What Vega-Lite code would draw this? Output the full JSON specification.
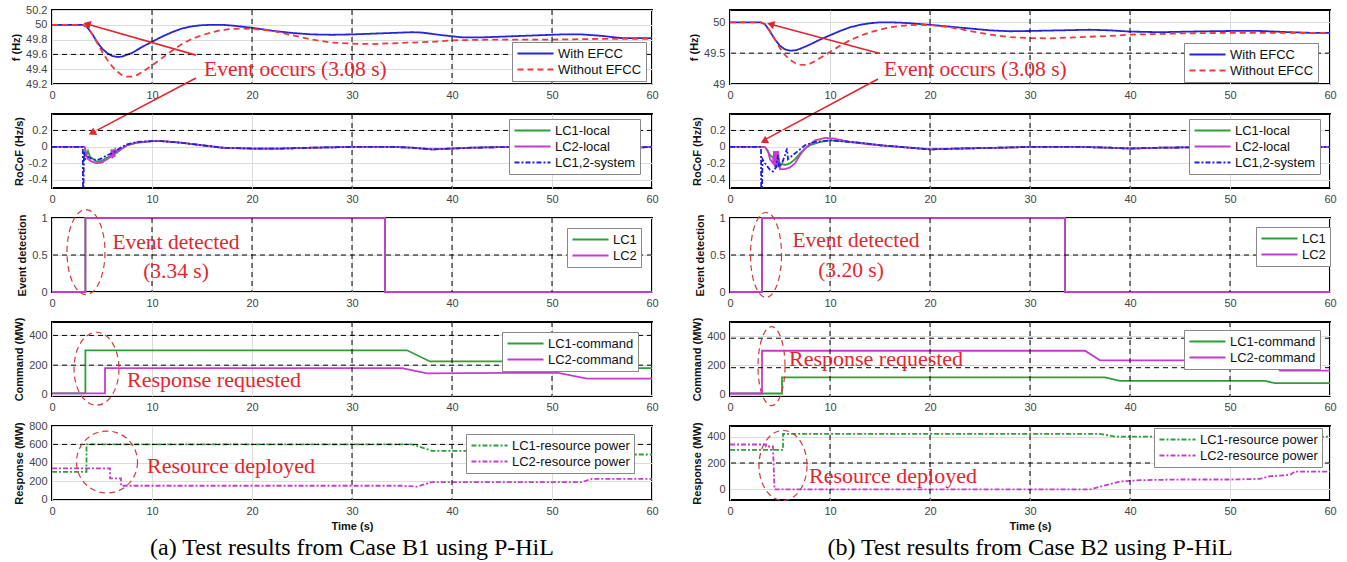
{
"$schema":"https://vega.github.io/schema/vega-lite/v6.json",
"padding":{"left":9,"top":3,"right":2,"bottom":3},
"datasets":{
"vgrid":[
{"p":"L1","t":10},{"p":"L1","t":20},{"p":"L1","t":30},{"p":"L1","t":40},{"p":"L1","t":50},
{"p":"L2","t":30},{"p":"L2","t":40},
{"p":"L3","t":10},{"p":"L3","t":20},{"p":"L3","t":30},{"p":"L3","t":40},{"p":"L3","t":50},
{"p":"L4","t":30},{"p":"L4","t":40},{"p":"L4","t":50},
{"p":"L5","t":30},{"p":"L5","t":40},
{"p":"R1","t":20},{"p":"R1","t":30},{"p":"R1","t":40},
{"p":"R2","t":10},{"p":"R2","t":20},{"p":"R2","t":30},{"p":"R2","t":40},
{"p":"R3","t":10},{"p":"R3","t":20},{"p":"R3","t":30},{"p":"R3","t":40},{"p":"R3","t":50},
{"p":"R4","t":10},{"p":"R4","t":20},{"p":"R4","t":30},{"p":"R4","t":40},{"p":"R4","t":50},
{"p":"R5","t":10},{"p":"R5","t":20},{"p":"R5","t":30},{"p":"R5","t":40}
],
"hgrid":[
{"p":"L1","v":49.6},{"p":"L2","v":0.2},{"p":"L3","v":0.5},{"p":"L4","v":400},{"p":"L4","v":200},{"p":"L5","v":600},
{"p":"R1","v":49.5},{"p":"R2","v":0.2},{"p":"R3","v":0.5},{"p":"R4","v":385},{"p":"R4","v":185},{"p":"R5","v":200}
],
"notes":[
{"p":"L1","t":15.2,"v":49.39,"label":"Event occurs (3.08 s)"},
{"p":"R1","t":15.4,"v":49.23,"label":"Event occurs (3.08 s)"},
{"p":"L3","t":12.4,"v":0.66,"label":"Event detected"},
{"p":"L3","t":12.4,"v":0.27,"label":"(3.34 s)"},
{"p":"R3","t":12.6,"v":0.685,"label":"Event detected"},
{"p":"R3","t":12.1,"v":0.28,"label":"(3.20 s)"},
{"p":"L4","t":7.5,"v":102,"label":"Response requested"},
{"p":"R4","t":5.9,"v":246,"label":"Response requested"},
{"p":"L5","t":9.5,"v":365,"label":"Resource deployed"},
{"p":"R5","t":7.9,"v":100,"label":"Resource deployed"}
],
"arrows":[
{"p":"L1","t":14.4,"v":49.59,"t2":3.5,"v2":50.01},
{"p":"L1","t":14.4,"v":49.28,"t2":4.0,"v2":48.54},
{"p":"R1","t":14.9,"v":49.5,"t2":4.07,"v2":49.97},
{"p":"R1","t":14.8,"v":49.08,"t2":3.4,"v2":48.09}
],
"heads":[
{"p":"L1","t":3.5,"v":50.01},
{"p":"L2","t":4.0,"v":0.17},
{"p":"R1","t":4.07,"v":49.97},
{"p":"R2","t":3.4,"v":0.07}
],
"rings":[
{"p":"L3","t":3.4,"v":0.54},
{"p":"R3","t":3.6,"v":0.5},
{"p":"L4","t":4.45,"v":176},
{"p":"R4","t":4.15,"v":195},
{"p":"L5","t":5.5,"v":408},
{"p":"R5","t":5.3,"v":181}
],
"lines":[
{"p":"L1","s":"With EFCC","t":0,"v":50},{"p":"L1","s":"With EFCC","t":3.08,"v":50},{"p":"L1","s":"With EFCC","t":3.5,"v":49.97},{"p":"L1","s":"With EFCC","t":4,"v":49.88},{"p":"L1","s":"With EFCC","t":4.5,"v":49.77},{"p":"L1","s":"With EFCC","t":5,"v":49.68},{"p":"L1","s":"With EFCC","t":5.5,"v":49.62},{"p":"L1","s":"With EFCC","t":6,"v":49.58},{"p":"L1","s":"With EFCC","t":6.5,"v":49.565},{"p":"L1","s":"With EFCC","t":7,"v":49.57},{"p":"L1","s":"With EFCC","t":8,"v":49.62},{"p":"L1","s":"With EFCC","t":9,"v":49.7},{"p":"L1","s":"With EFCC","t":10,"v":49.77},{"p":"L1","s":"With EFCC","t":11,"v":49.84},{"p":"L1","s":"With EFCC","t":12,"v":49.9},{"p":"L1","s":"With EFCC","t":13,"v":49.95},{"p":"L1","s":"With EFCC","t":14,"v":49.98},{"p":"L1","s":"With EFCC","t":15,"v":49.995},{"p":"L1","s":"With EFCC","t":16,"v":50},{"p":"L1","s":"With EFCC","t":17,"v":50},{"p":"L1","s":"With EFCC","t":18,"v":49.99},{"p":"L1","s":"With EFCC","t":20,"v":49.96},{"p":"L1","s":"With EFCC","t":22,"v":49.92},{"p":"L1","s":"With EFCC","t":24,"v":49.89},{"p":"L1","s":"With EFCC","t":26,"v":49.87},{"p":"L1","s":"With EFCC","t":28,"v":49.865},{"p":"L1","s":"With EFCC","t":30,"v":49.87},{"p":"L1","s":"With EFCC","t":32,"v":49.88},{"p":"L1","s":"With EFCC","t":34,"v":49.89},{"p":"L1","s":"With EFCC","t":36,"v":49.9},{"p":"L1","s":"With EFCC","t":37,"v":49.895},{"p":"L1","s":"With EFCC","t":39,"v":49.86},{"p":"L1","s":"With EFCC","t":41,"v":49.83},{"p":"L1","s":"With EFCC","t":43,"v":49.83},{"p":"L1","s":"With EFCC","t":45,"v":49.84},{"p":"L1","s":"With EFCC","t":47,"v":49.85},{"p":"L1","s":"With EFCC","t":49,"v":49.86},{"p":"L1","s":"With EFCC","t":51,"v":49.87},{"p":"L1","s":"With EFCC","t":53,"v":49.87},{"p":"L1","s":"With EFCC","t":55,"v":49.85},{"p":"L1","s":"With EFCC","t":57,"v":49.82},{"p":"L1","s":"With EFCC","t":60,"v":49.82},
{"p":"L1","s":"Without EFCC","t":0,"v":50},{"p":"L1","s":"Without EFCC","t":3.08,"v":50},{"p":"L1","s":"Without EFCC","t":3.5,"v":49.97},{"p":"L1","s":"Without EFCC","t":4,"v":49.88},{"p":"L1","s":"Without EFCC","t":4.5,"v":49.76},{"p":"L1","s":"Without EFCC","t":5,"v":49.64},{"p":"L1","s":"Without EFCC","t":5.5,"v":49.53},{"p":"L1","s":"Without EFCC","t":6,"v":49.44},{"p":"L1","s":"Without EFCC","t":6.5,"v":49.37},{"p":"L1","s":"Without EFCC","t":7,"v":49.32},{"p":"L1","s":"Without EFCC","t":7.5,"v":49.3},{"p":"L1","s":"Without EFCC","t":8,"v":49.3},{"p":"L1","s":"Without EFCC","t":8.5,"v":49.32},{"p":"L1","s":"Without EFCC","t":9,"v":49.36},{"p":"L1","s":"Without EFCC","t":10,"v":49.45},{"p":"L1","s":"Without EFCC","t":11,"v":49.55},{"p":"L1","s":"Without EFCC","t":12,"v":49.65},{"p":"L1","s":"Without EFCC","t":13,"v":49.74},{"p":"L1","s":"Without EFCC","t":14,"v":49.81},{"p":"L1","s":"Without EFCC","t":15,"v":49.86},{"p":"L1","s":"Without EFCC","t":16,"v":49.9},{"p":"L1","s":"Without EFCC","t":17,"v":49.93},{"p":"L1","s":"Without EFCC","t":18,"v":49.945},{"p":"L1","s":"Without EFCC","t":19,"v":49.95},{"p":"L1","s":"Without EFCC","t":20,"v":49.945},{"p":"L1","s":"Without EFCC","t":22,"v":49.92},{"p":"L1","s":"Without EFCC","t":24,"v":49.86},{"p":"L1","s":"Without EFCC","t":26,"v":49.8},{"p":"L1","s":"Without EFCC","t":28,"v":49.76},{"p":"L1","s":"Without EFCC","t":30,"v":49.745},{"p":"L1","s":"Without EFCC","t":32,"v":49.74},{"p":"L1","s":"Without EFCC","t":34,"v":49.75},{"p":"L1","s":"Without EFCC","t":36,"v":49.76},{"p":"L1","s":"Without EFCC","t":38,"v":49.77},{"p":"L1","s":"Without EFCC","t":40,"v":49.79},{"p":"L1","s":"Without EFCC","t":44,"v":49.8},{"p":"L1","s":"Without EFCC","t":50,"v":49.8},{"p":"L1","s":"Without EFCC","t":55,"v":49.81},{"p":"L1","s":"Without EFCC","t":60,"v":49.81},
{"p":"R1","s":"With EFCC","t":0,"v":50},{"p":"R1","s":"With EFCC","t":3.08,"v":50},{"p":"R1","s":"With EFCC","t":3.5,"v":49.97},{"p":"R1","s":"With EFCC","t":4,"v":49.85},{"p":"R1","s":"With EFCC","t":4.5,"v":49.72},{"p":"R1","s":"With EFCC","t":5,"v":49.62},{"p":"R1","s":"With EFCC","t":5.5,"v":49.56},{"p":"R1","s":"With EFCC","t":6,"v":49.54},{"p":"R1","s":"With EFCC","t":6.5,"v":49.545},{"p":"R1","s":"With EFCC","t":7,"v":49.57},{"p":"R1","s":"With EFCC","t":8,"v":49.64},{"p":"R1","s":"With EFCC","t":9,"v":49.72},{"p":"R1","s":"With EFCC","t":10,"v":49.79},{"p":"R1","s":"With EFCC","t":11,"v":49.86},{"p":"R1","s":"With EFCC","t":12,"v":49.92},{"p":"R1","s":"With EFCC","t":13,"v":49.96},{"p":"R1","s":"With EFCC","t":14,"v":49.985},{"p":"R1","s":"With EFCC","t":15,"v":50},{"p":"R1","s":"With EFCC","t":16,"v":50},{"p":"R1","s":"With EFCC","t":17,"v":49.995},{"p":"R1","s":"With EFCC","t":18,"v":49.985},{"p":"R1","s":"With EFCC","t":20,"v":49.96},{"p":"R1","s":"With EFCC","t":22,"v":49.93},{"p":"R1","s":"With EFCC","t":24,"v":49.9},{"p":"R1","s":"With EFCC","t":26,"v":49.87},{"p":"R1","s":"With EFCC","t":28,"v":49.855},{"p":"R1","s":"With EFCC","t":30,"v":49.86},{"p":"R1","s":"With EFCC","t":33,"v":49.87},{"p":"R1","s":"With EFCC","t":36,"v":49.88},{"p":"R1","s":"With EFCC","t":38,"v":49.87},{"p":"R1","s":"With EFCC","t":40,"v":49.85},{"p":"R1","s":"With EFCC","t":43,"v":49.84},{"p":"R1","s":"With EFCC","t":46,"v":49.85},{"p":"R1","s":"With EFCC","t":50,"v":49.86},{"p":"R1","s":"With EFCC","t":53,"v":49.86},{"p":"R1","s":"With EFCC","t":56,"v":49.84},{"p":"R1","s":"With EFCC","t":58,"v":49.83},{"p":"R1","s":"With EFCC","t":60,"v":49.83},
{"p":"R1","s":"Without EFCC","t":0,"v":50},{"p":"R1","s":"Without EFCC","t":3.08,"v":50},{"p":"R1","s":"Without EFCC","t":3.5,"v":49.97},{"p":"R1","s":"Without EFCC","t":4,"v":49.86},{"p":"R1","s":"Without EFCC","t":4.5,"v":49.72},{"p":"R1","s":"Without EFCC","t":5,"v":49.58},{"p":"R1","s":"Without EFCC","t":5.5,"v":49.47},{"p":"R1","s":"Without EFCC","t":6,"v":49.39},{"p":"R1","s":"Without EFCC","t":6.5,"v":49.34},{"p":"R1","s":"Without EFCC","t":7,"v":49.315},{"p":"R1","s":"Without EFCC","t":7.5,"v":49.31},{"p":"R1","s":"Without EFCC","t":8,"v":49.33},{"p":"R1","s":"Without EFCC","t":8.5,"v":49.37},{"p":"R1","s":"Without EFCC","t":9,"v":49.42},{"p":"R1","s":"Without EFCC","t":10,"v":49.52},{"p":"R1","s":"Without EFCC","t":11,"v":49.62},{"p":"R1","s":"Without EFCC","t":12,"v":49.71},{"p":"R1","s":"Without EFCC","t":13,"v":49.78},{"p":"R1","s":"Without EFCC","t":14,"v":49.84},{"p":"R1","s":"Without EFCC","t":15,"v":49.88},{"p":"R1","s":"Without EFCC","t":16,"v":49.92},{"p":"R1","s":"Without EFCC","t":17,"v":49.94},{"p":"R1","s":"Without EFCC","t":18,"v":49.955},{"p":"R1","s":"Without EFCC","t":19,"v":49.96},{"p":"R1","s":"Without EFCC","t":20,"v":49.955},{"p":"R1","s":"Without EFCC","t":22,"v":49.92},{"p":"R1","s":"Without EFCC","t":24,"v":49.86},{"p":"R1","s":"Without EFCC","t":26,"v":49.8},{"p":"R1","s":"Without EFCC","t":28,"v":49.76},{"p":"R1","s":"Without EFCC","t":30,"v":49.745},{"p":"R1","s":"Without EFCC","t":32,"v":49.74},{"p":"R1","s":"Without EFCC","t":35,"v":49.76},{"p":"R1","s":"Without EFCC","t":38,"v":49.78},{"p":"R1","s":"Without EFCC","t":40,"v":49.8},{"p":"R1","s":"Without EFCC","t":45,"v":49.82},{"p":"R1","s":"Without EFCC","t":50,"v":49.83},{"p":"R1","s":"Without EFCC","t":55,"v":49.83},{"p":"R1","s":"Without EFCC","t":60,"v":49.83},
{"p":"L2","s":"LC1-local","t":0,"v":0},{"p":"L2","s":"LC1-local","t":3.3,"v":0},{"p":"L2","s":"LC1-local","t":3.4,"v":-0.12},{"p":"L2","s":"LC1-local","t":3.6,"v":-0.05},{"p":"L2","s":"LC1-local","t":3.8,"v":-0.12},{"p":"L2","s":"LC1-local","t":4.5,"v":-0.18},{"p":"L2","s":"LC1-local","t":5,"v":-0.17},{"p":"L2","s":"LC1-local","t":5.5,"v":-0.13},{"p":"L2","s":"LC1-local","t":6,"v":-0.1},{"p":"L2","s":"LC1-local","t":6.5,"v":-0.07},{"p":"L2","s":"LC1-local","t":7,"v":-0.02},{"p":"L2","s":"LC1-local","t":7.5,"v":0.02},{"p":"L2","s":"LC1-local","t":8.5,"v":0.05},{"p":"L2","s":"LC1-local","t":10,"v":0.07},{"p":"L2","s":"LC1-local","t":11,"v":0.07},{"p":"L2","s":"LC1-local","t":13,"v":0.05},{"p":"L2","s":"LC1-local","t":15,"v":0.02},{"p":"L2","s":"LC1-local","t":17,"v":-0.01},{"p":"L2","s":"LC1-local","t":20,"v":-0.02},{"p":"L2","s":"LC1-local","t":23,"v":-0.02},{"p":"L2","s":"LC1-local","t":26,"v":-0.01},{"p":"L2","s":"LC1-local","t":30,"v":0},{"p":"L2","s":"LC1-local","t":34,"v":0},{"p":"L2","s":"LC1-local","t":36,"v":-0.01},{"p":"L2","s":"LC1-local","t":38,"v":-0.03},{"p":"L2","s":"LC1-local","t":40,"v":-0.02},{"p":"L2","s":"LC1-local","t":42,"v":-0.01},{"p":"L2","s":"LC1-local","t":46,"v":0},{"p":"L2","s":"LC1-local","t":50,"v":0},{"p":"L2","s":"LC1-local","t":53,"v":-0.01},{"p":"L2","s":"LC1-local","t":56,"v":-0.02},{"p":"L2","s":"LC1-local","t":58,"v":-0.01},{"p":"L2","s":"LC1-local","t":60,"v":0},
{"p":"L2","s":"LC2-local","t":0,"v":0},{"p":"L2","s":"LC2-local","t":3.3,"v":0},{"p":"L2","s":"LC2-local","t":3.4,"v":-0.1},{"p":"L2","s":"LC2-local","t":3.6,"v":-0.15},{"p":"L2","s":"LC2-local","t":4,"v":-0.18},{"p":"L2","s":"LC2-local","t":4.5,"v":-0.2},{"p":"L2","s":"LC2-local","t":5,"v":-0.19},{"p":"L2","s":"LC2-local","t":5.5,"v":-0.15},{"p":"L2","s":"LC2-local","t":5.9,"v":-0.12},{"p":"L2","s":"LC2-local","t":5.95,"v":-0.03},{"p":"L2","s":"LC2-local","t":6.05,"v":-0.14},{"p":"L2","s":"LC2-local","t":6.15,"v":-0.03},{"p":"L2","s":"LC2-local","t":6.25,"v":-0.12},{"p":"L2","s":"LC2-local","t":6.35,"v":-0.03},{"p":"L2","s":"LC2-local","t":6.5,"v":-0.06},{"p":"L2","s":"LC2-local","t":7,"v":-0.02},{"p":"L2","s":"LC2-local","t":7.5,"v":0.02},{"p":"L2","s":"LC2-local","t":8.5,"v":0.055},{"p":"L2","s":"LC2-local","t":10,"v":0.07},{"p":"L2","s":"LC2-local","t":11,"v":0.07},{"p":"L2","s":"LC2-local","t":13,"v":0.05},{"p":"L2","s":"LC2-local","t":15,"v":0.02},{"p":"L2","s":"LC2-local","t":17,"v":-0.01},{"p":"L2","s":"LC2-local","t":20,"v":-0.02},{"p":"L2","s":"LC2-local","t":23,"v":-0.02},{"p":"L2","s":"LC2-local","t":26,"v":-0.01},{"p":"L2","s":"LC2-local","t":30,"v":0},{"p":"L2","s":"LC2-local","t":34,"v":0},{"p":"L2","s":"LC2-local","t":36,"v":-0.01},{"p":"L2","s":"LC2-local","t":38,"v":-0.03},{"p":"L2","s":"LC2-local","t":40,"v":-0.02},{"p":"L2","s":"LC2-local","t":42,"v":-0.01},{"p":"L2","s":"LC2-local","t":46,"v":0},{"p":"L2","s":"LC2-local","t":50,"v":0},{"p":"L2","s":"LC2-local","t":53,"v":-0.01},{"p":"L2","s":"LC2-local","t":56,"v":-0.02},{"p":"L2","s":"LC2-local","t":58,"v":-0.01},{"p":"L2","s":"LC2-local","t":60,"v":0},
{"p":"L2","s":"LC1,2-system","t":0,"v":0},{"p":"L2","s":"LC1,2-system","t":3.08,"v":0},{"p":"L2","s":"LC1,2-system","t":3.1,"v":-0.5},{"p":"L2","s":"LC1,2-system","t":3.15,"v":-0.5},{"p":"L2","s":"LC1,2-system","t":3.2,"v":-0.05},{"p":"L2","s":"LC1,2-system","t":3.3,"v":-0.15},{"p":"L2","s":"LC1,2-system","t":3.6,"v":-0.12},{"p":"L2","s":"LC1,2-system","t":4,"v":-0.15},{"p":"L2","s":"LC1,2-system","t":4.5,"v":-0.16},{"p":"L2","s":"LC1,2-system","t":5,"v":-0.14},{"p":"L2","s":"LC1,2-system","t":5.5,"v":-0.1},{"p":"L2","s":"LC1,2-system","t":6,"v":-0.08},{"p":"L2","s":"LC1,2-system","t":6.5,"v":-0.04},{"p":"L2","s":"LC1,2-system","t":7,"v":0},{"p":"L2","s":"LC1,2-system","t":7.5,"v":0.03},{"p":"L2","s":"LC1,2-system","t":8.5,"v":0.06},{"p":"L2","s":"LC1,2-system","t":10,"v":0.07},{"p":"L2","s":"LC1,2-system","t":11,"v":0.07},{"p":"L2","s":"LC1,2-system","t":13,"v":0.05},{"p":"L2","s":"LC1,2-system","t":15,"v":0.02},{"p":"L2","s":"LC1,2-system","t":17,"v":-0.01},{"p":"L2","s":"LC1,2-system","t":20,"v":-0.02},{"p":"L2","s":"LC1,2-system","t":23,"v":-0.02},{"p":"L2","s":"LC1,2-system","t":26,"v":-0.01},{"p":"L2","s":"LC1,2-system","t":30,"v":0},{"p":"L2","s":"LC1,2-system","t":34,"v":0},{"p":"L2","s":"LC1,2-system","t":36,"v":-0.01},{"p":"L2","s":"LC1,2-system","t":38,"v":-0.03},{"p":"L2","s":"LC1,2-system","t":40,"v":-0.02},{"p":"L2","s":"LC1,2-system","t":42,"v":-0.01},{"p":"L2","s":"LC1,2-system","t":46,"v":0},{"p":"L2","s":"LC1,2-system","t":50,"v":0},{"p":"L2","s":"LC1,2-system","t":53,"v":-0.01},{"p":"L2","s":"LC1,2-system","t":56,"v":-0.02},{"p":"L2","s":"LC1,2-system","t":58,"v":-0.01},{"p":"L2","s":"LC1,2-system","t":60,"v":0},
{"p":"R2","s":"LC1-local","t":0,"v":0},{"p":"R2","s":"LC1-local","t":3.5,"v":0},{"p":"R2","s":"LC1-local","t":4,"v":-0.1},{"p":"R2","s":"LC1-local","t":4.5,"v":-0.15},{"p":"R2","s":"LC1-local","t":5,"v":-0.2},{"p":"R2","s":"LC1-local","t":5.5,"v":-0.22},{"p":"R2","s":"LC1-local","t":6,"v":-0.2},{"p":"R2","s":"LC1-local","t":6.5,"v":-0.15},{"p":"R2","s":"LC1-local","t":7,"v":-0.08},{"p":"R2","s":"LC1-local","t":7.5,"v":-0.02},{"p":"R2","s":"LC1-local","t":8,"v":0.02},{"p":"R2","s":"LC1-local","t":9,"v":0.06},{"p":"R2","s":"LC1-local","t":10,"v":0.08},{"p":"R2","s":"LC1-local","t":11,"v":0.07},{"p":"R2","s":"LC1-local","t":13,"v":0.05},{"p":"R2","s":"LC1-local","t":15,"v":0.02},{"p":"R2","s":"LC1-local","t":17,"v":0},{"p":"R2","s":"LC1-local","t":20,"v":-0.03},{"p":"R2","s":"LC1-local","t":23,"v":-0.02},{"p":"R2","s":"LC1-local","t":27,"v":-0.01},{"p":"R2","s":"LC1-local","t":30,"v":0},{"p":"R2","s":"LC1-local","t":35,"v":0},{"p":"R2","s":"LC1-local","t":38,"v":-0.01},{"p":"R2","s":"LC1-local","t":40,"v":-0.02},{"p":"R2","s":"LC1-local","t":43,"v":-0.01},{"p":"R2","s":"LC1-local","t":50,"v":0},{"p":"R2","s":"LC1-local","t":55,"v":-0.01},{"p":"R2","s":"LC1-local","t":60,"v":0},
{"p":"R2","s":"LC2-local","t":0,"v":0},{"p":"R2","s":"LC2-local","t":3.5,"v":0},{"p":"R2","s":"LC2-local","t":3.8,"v":-0.05},{"p":"R2","s":"LC2-local","t":4,"v":-0.15},{"p":"R2","s":"LC2-local","t":4.3,"v":-0.2},{"p":"R2","s":"LC2-local","t":4.4,"v":-0.05},{"p":"R2","s":"LC2-local","t":4.5,"v":-0.25},{"p":"R2","s":"LC2-local","t":4.6,"v":-0.05},{"p":"R2","s":"LC2-local","t":4.7,"v":-0.25},{"p":"R2","s":"LC2-local","t":4.8,"v":-0.05},{"p":"R2","s":"LC2-local","t":5,"v":-0.27},{"p":"R2","s":"LC2-local","t":5.5,"v":-0.27},{"p":"R2","s":"LC2-local","t":6,"v":-0.25},{"p":"R2","s":"LC2-local","t":6.5,"v":-0.2},{"p":"R2","s":"LC2-local","t":7,"v":-0.1},{"p":"R2","s":"LC2-local","t":7.5,"v":-0.02},{"p":"R2","s":"LC2-local","t":8,"v":0.03},{"p":"R2","s":"LC2-local","t":8.5,"v":0.08},{"p":"R2","s":"LC2-local","t":9.5,"v":0.11},{"p":"R2","s":"LC2-local","t":10.5,"v":0.1},{"p":"R2","s":"LC2-local","t":12,"v":0.06},{"p":"R2","s":"LC2-local","t":14,"v":0.03},{"p":"R2","s":"LC2-local","t":17,"v":0},{"p":"R2","s":"LC2-local","t":20,"v":-0.03},{"p":"R2","s":"LC2-local","t":23,"v":-0.02},{"p":"R2","s":"LC2-local","t":27,"v":-0.01},{"p":"R2","s":"LC2-local","t":30,"v":0},{"p":"R2","s":"LC2-local","t":35,"v":0},{"p":"R2","s":"LC2-local","t":38,"v":-0.01},{"p":"R2","s":"LC2-local","t":40,"v":-0.02},{"p":"R2","s":"LC2-local","t":43,"v":-0.01},{"p":"R2","s":"LC2-local","t":50,"v":0},{"p":"R2","s":"LC2-local","t":55,"v":-0.01},{"p":"R2","s":"LC2-local","t":60,"v":0},
{"p":"R2","s":"LC1,2-system","t":0,"v":0},{"p":"R2","s":"LC1,2-system","t":3.1,"v":0},{"p":"R2","s":"LC1,2-system","t":3.12,"v":-0.5},{"p":"R2","s":"LC1,2-system","t":3.2,"v":-0.5},{"p":"R2","s":"LC1,2-system","t":3.25,"v":-0.15},{"p":"R2","s":"LC1,2-system","t":3.5,"v":-0.2},{"p":"R2","s":"LC1,2-system","t":4,"v":-0.28},{"p":"R2","s":"LC1,2-system","t":4.3,"v":-0.3},{"p":"R2","s":"LC1,2-system","t":4.6,"v":-0.25},{"p":"R2","s":"LC1,2-system","t":4.8,"v":-0.1},{"p":"R2","s":"LC1,2-system","t":4.9,"v":-0.25},{"p":"R2","s":"LC1,2-system","t":5.2,"v":-0.2},{"p":"R2","s":"LC1,2-system","t":5.5,"v":-0.1},{"p":"R2","s":"LC1,2-system","t":5.7,"v":-0.02},{"p":"R2","s":"LC1,2-system","t":5.8,"v":-0.15},{"p":"R2","s":"LC1,2-system","t":6.3,"v":-0.1},{"p":"R2","s":"LC1,2-system","t":7,"v":-0.03},{"p":"R2","s":"LC1,2-system","t":7.5,"v":0.02},{"p":"R2","s":"LC1,2-system","t":8.5,"v":0.06},{"p":"R2","s":"LC1,2-system","t":10,"v":0.08},{"p":"R2","s":"LC1,2-system","t":11,"v":0.07},{"p":"R2","s":"LC1,2-system","t":13,"v":0.05},{"p":"R2","s":"LC1,2-system","t":15,"v":0.02},{"p":"R2","s":"LC1,2-system","t":17,"v":0},{"p":"R2","s":"LC1,2-system","t":20,"v":-0.03},{"p":"R2","s":"LC1,2-system","t":23,"v":-0.02},{"p":"R2","s":"LC1,2-system","t":27,"v":-0.01},{"p":"R2","s":"LC1,2-system","t":30,"v":0},{"p":"R2","s":"LC1,2-system","t":35,"v":0},{"p":"R2","s":"LC1,2-system","t":38,"v":-0.01},{"p":"R2","s":"LC1,2-system","t":40,"v":-0.02},{"p":"R2","s":"LC1,2-system","t":43,"v":-0.01},{"p":"R2","s":"LC1,2-system","t":50,"v":0},{"p":"R2","s":"LC1,2-system","t":55,"v":-0.01},{"p":"R2","s":"LC1,2-system","t":60,"v":0},
{"p":"L3","s":"LC1","t":0,"v":0},{"p":"L3","s":"LC1","t":3.34,"v":0},{"p":"L3","s":"LC1","t":3.341,"v":1},{"p":"L3","s":"LC1","t":33.3,"v":1},{"p":"L3","s":"LC1","t":33.301,"v":0},{"p":"L3","s":"LC1","t":60,"v":0},
{"p":"L3","s":"LC2","t":0,"v":0},{"p":"L3","s":"LC2","t":3.34,"v":0},{"p":"L3","s":"LC2","t":3.341,"v":1},{"p":"L3","s":"LC2","t":33.3,"v":1},{"p":"L3","s":"LC2","t":33.301,"v":0},{"p":"L3","s":"LC2","t":60,"v":0},
{"p":"R3","s":"LC1","t":0,"v":0},{"p":"R3","s":"LC1","t":3.2,"v":0},{"p":"R3","s":"LC1","t":3.201,"v":1},{"p":"R3","s":"LC1","t":33.5,"v":1},{"p":"R3","s":"LC1","t":33.501,"v":0},{"p":"R3","s":"LC1","t":60,"v":0},
{"p":"R3","s":"LC2","t":0,"v":0},{"p":"R3","s":"LC2","t":3.2,"v":0},{"p":"R3","s":"LC2","t":3.201,"v":1},{"p":"R3","s":"LC2","t":33.5,"v":1},{"p":"R3","s":"LC2","t":33.501,"v":0},{"p":"R3","s":"LC2","t":60,"v":0},
{"p":"L4","s":"LC1-command","t":0,"v":10},{"p":"L4","s":"LC1-command","t":3.34,"v":10},{"p":"L4","s":"LC1-command","t":3.341,"v":300},{"p":"L4","s":"LC1-command","t":35.5,"v":300},{"p":"L4","s":"LC1-command","t":37.8,"v":225},{"p":"L4","s":"LC1-command","t":56,"v":225},{"p":"L4","s":"LC1-command","t":56.6,"v":180},{"p":"L4","s":"LC1-command","t":60,"v":180},
{"p":"L4","s":"LC2-command","t":0,"v":10},{"p":"L4","s":"LC2-command","t":5.3,"v":10},{"p":"L4","s":"LC2-command","t":5.301,"v":180},{"p":"L4","s":"LC2-command","t":35,"v":180},{"p":"L4","s":"LC2-command","t":37.5,"v":145},{"p":"L4","s":"LC2-command","t":50.5,"v":150},{"p":"L4","s":"LC2-command","t":53.5,"v":110},{"p":"L4","s":"LC2-command","t":60,"v":110},
{"p":"R4","s":"LC1-command","t":0,"v":10},{"p":"R4","s":"LC1-command","t":5.2,"v":10},{"p":"R4","s":"LC1-command","t":5.201,"v":120},{"p":"R4","s":"LC1-command","t":37.5,"v":120},{"p":"R4","s":"LC1-command","t":39,"v":95},{"p":"R4","s":"LC1-command","t":53.5,"v":95},{"p":"R4","s":"LC1-command","t":54.5,"v":80},{"p":"R4","s":"LC1-command","t":60,"v":80},
{"p":"R4","s":"LC2-command","t":0,"v":10},{"p":"R4","s":"LC2-command","t":3.2,"v":10},{"p":"R4","s":"LC2-command","t":3.201,"v":300},{"p":"R4","s":"LC2-command","t":35.5,"v":300},{"p":"R4","s":"LC2-command","t":37,"v":235},{"p":"R4","s":"LC2-command","t":54,"v":235},{"p":"R4","s":"LC2-command","t":55,"v":165},{"p":"R4","s":"LC2-command","t":60,"v":165},
{"p":"L5","s":"LC1-resource power","t":0,"v":300},{"p":"L5","s":"LC1-resource power","t":3.45,"v":300},{"p":"L5","s":"LC1-resource power","t":3.451,"v":600},{"p":"L5","s":"LC1-resource power","t":36,"v":600},{"p":"L5","s":"LC1-resource power","t":38,"v":530},{"p":"L5","s":"LC1-resource power","t":56,"v":530},{"p":"L5","s":"LC1-resource power","t":57,"v":490},{"p":"L5","s":"LC1-resource power","t":60,"v":490},
{"p":"L5","s":"LC2-resource power","t":0,"v":340},{"p":"L5","s":"LC2-resource power","t":5.8,"v":340},{"p":"L5","s":"LC2-resource power","t":5.801,"v":230},{"p":"L5","s":"LC2-resource power","t":6.9,"v":230},{"p":"L5","s":"LC2-resource power","t":6.901,"v":150},{"p":"L5","s":"LC2-resource power","t":35,"v":150},{"p":"L5","s":"LC2-resource power","t":36.5,"v":140},{"p":"L5","s":"LC2-resource power","t":38,"v":190},{"p":"L5","s":"LC2-resource power","t":53,"v":190},{"p":"L5","s":"LC2-resource power","t":54,"v":225},{"p":"L5","s":"LC2-resource power","t":60,"v":225},
{"p":"R5","s":"LC1-resource power","t":0,"v":300},{"p":"R5","s":"LC1-resource power","t":5.3,"v":300},{"p":"R5","s":"LC1-resource power","t":5.301,"v":420},{"p":"R5","s":"LC1-resource power","t":37,"v":420},{"p":"R5","s":"LC1-resource power","t":38.5,"v":400},{"p":"R5","s":"LC1-resource power","t":60,"v":400},
{"p":"R5","s":"LC2-resource power","t":0,"v":340},{"p":"R5","s":"LC2-resource power","t":3.6,"v":340},{"p":"R5","s":"LC2-resource power","t":3.601,"v":325},{"p":"R5","s":"LC2-resource power","t":4.3,"v":325},{"p":"R5","s":"LC2-resource power","t":4.45,"v":0},{"p":"R5","s":"LC2-resource power","t":36,"v":0},{"p":"R5","s":"LC2-resource power","t":37,"v":20},{"p":"R5","s":"LC2-resource power","t":38,"v":40},{"p":"R5","s":"LC2-resource power","t":39,"v":60},{"p":"R5","s":"LC2-resource power","t":41,"v":70},{"p":"R5","s":"LC2-resource power","t":45,"v":75},{"p":"R5","s":"LC2-resource power","t":50,"v":75},{"p":"R5","s":"LC2-resource power","t":53,"v":80},{"p":"R5","s":"LC2-resource power","t":54,"v":100},{"p":"R5","s":"LC2-resource power","t":56,"v":110},{"p":"R5","s":"LC2-resource power","t":56.5,"v":135},{"p":"R5","s":"LC2-resource power","t":60,"v":135}
]
},
"columns":2,
"spacing":{"row":30,"column":78},
"bounds":"flush",
"resolve":{"scale":{"color":"independent","strokeDash":"independent"},"legend":{"color":"independent","strokeDash":"independent"}},
"concat":[
{"width":600,"height":74,"layer":[
 {"data":{"name":"lines"},"transform":[{"filter":"datum.p==='L1'"}],"mark":{"type":"line","strokeWidth":1.8},"encoding":{
   "x":{"field":"t","type":"quantitative","scale":{"domain":[0,60],"nice":false},"axis":{"values":[0,10,20,30,40,50,60],"tickCount":20,"title":null,"labelOverlap":false}},
   "y":{"field":"v","type":"quantitative","scale":{"domain":[49.2,50.2],"nice":false,"zero":false},"axis":{"values":[49.2,49.4,49.6,49.8,50,50.2],"tickCount":20,"labelExpr":"replace(format(datum.value, '~g'), '−', '-')","labelOverlap":false,"title":"f (Hz)"}},
   "color":{"field":"s","type":"nominal","sort":null,"scale":{"domain":["With EFCC","Without EFCC"],"range":["#2626d9","#f0393c"]},"legend":{"title":null,"orient":"none","legendX":460,"legendY":32}},
   "strokeDash":{"field":"s","type":"nominal","sort":null,"scale":{"domain":["With EFCC","Without EFCC"],"range":[[1,0],[6,4]]},"legend":{"title":null,"orient":"none","legendX":460,"legendY":32}}}},
 {"data":{"name":"vgrid"},"transform":[{"filter":"datum.p==='L1'"}],"mark":{"type":"rule","color":"#000","strokeDash":[5,4],"strokeWidth":1},"encoding":{"x":{"field":"t","type":"quantitative","scale":{"domain":[0,60],"nice":false}}}},
 {"data":{"name":"hgrid"},"transform":[{"filter":"datum.p==='L1'"}],"mark":{"type":"rule","color":"#000","strokeDash":[5,4],"strokeWidth":1},"encoding":{"y":{"field":"v","type":"quantitative","scale":{"domain":[49.2,50.2],"nice":false,"zero":false}}}},
 {"data":{"name":"notes"},"transform":[{"filter":"datum.p==='L1'"}],"mark":{"type":"text","font":"Liberation Serif","fontSize":21.5,"color":"#e3262e","align":"left","baseline":"middle"},"encoding":{"x":{"field":"t","type":"quantitative","scale":{"domain":[0,60],"nice":false}},"y":{"field":"v","type":"quantitative","scale":{"domain":[49.2,50.2],"nice":false,"zero":false}},"text":{"field":"label"}}},
 {"data":{"name":"arrows"},"transform":[{"filter":"datum.p==='L1'"}],"mark":{"type":"rule","color":"#e3262e","strokeWidth":1.6},"encoding":{"x":{"field":"t","type":"quantitative","scale":{"domain":[0,60],"nice":false}},"y":{"field":"v","type":"quantitative","scale":{"domain":[49.2,50.2],"nice":false,"zero":false}},"x2":{"field":"t2"},"y2":{"field":"v2"}}},
 {"data":{"name":"heads"},"transform":[{"filter":"datum.p==='L1'"}],"mark":{"type":"point","shape":"triangle-up","filled":true,"opacity":1,"color":"#e3262e","size":70,"angle":-74},"encoding":{"x":{"field":"t","type":"quantitative","scale":{"domain":[0,60],"nice":false}},"y":{"field":"v","type":"quantitative","scale":{"domain":[49.2,50.2],"nice":false,"zero":false}}}}
]},
{"width":600,"height":74,"layer":[
 {"data":{"name":"lines"},"transform":[{"filter":"datum.p==='R1'"}],"mark":{"type":"line","strokeWidth":1.8},"encoding":{
   "x":{"field":"t","type":"quantitative","scale":{"domain":[0,60],"nice":false},"axis":{"values":[0,10,20,30,40,50,60],"tickCount":20,"title":null,"labelOverlap":false}},
   "y":{"field":"v","type":"quantitative","scale":{"domain":[49,50.2],"nice":false,"zero":false},"axis":{"values":[49,49.5,50],"tickCount":20,"labelExpr":"replace(format(datum.value, '~g'), '−', '-')","labelOverlap":false,"title":"f (Hz)"}},
   "color":{"field":"s","type":"nominal","sort":null,"scale":{"domain":["With EFCC","Without EFCC"],"range":["#2626d9","#f0393c"]},"legend":{"title":null,"orient":"none","legendX":454,"legendY":33}},
   "strokeDash":{"field":"s","type":"nominal","sort":null,"scale":{"domain":["With EFCC","Without EFCC"],"range":[[1,0],[6,4]]},"legend":{"title":null,"orient":"none","legendX":454,"legendY":33}}}},
 {"data":{"name":"vgrid"},"transform":[{"filter":"datum.p==='R1'"}],"mark":{"type":"rule","color":"#000","strokeDash":[5,4],"strokeWidth":1},"encoding":{"x":{"field":"t","type":"quantitative","scale":{"domain":[0,60],"nice":false}}}},
 {"data":{"name":"hgrid"},"transform":[{"filter":"datum.p==='R1'"}],"mark":{"type":"rule","color":"#000","strokeDash":[5,4],"strokeWidth":1},"encoding":{"y":{"field":"v","type":"quantitative","scale":{"domain":[49,50.2],"nice":false,"zero":false}}}},
 {"data":{"name":"notes"},"transform":[{"filter":"datum.p==='R1'"}],"mark":{"type":"text","font":"Liberation Serif","fontSize":21.5,"color":"#e3262e","align":"left","baseline":"middle"},"encoding":{"x":{"field":"t","type":"quantitative","scale":{"domain":[0,60],"nice":false}},"y":{"field":"v","type":"quantitative","scale":{"domain":[49,50.2],"nice":false,"zero":false}},"text":{"field":"label"}}},
 {"data":{"name":"arrows"},"transform":[{"filter":"datum.p==='R1'"}],"mark":{"type":"rule","color":"#e3262e","strokeWidth":1.6},"encoding":{"x":{"field":"t","type":"quantitative","scale":{"domain":[0,60],"nice":false}},"y":{"field":"v","type":"quantitative","scale":{"domain":[49,50.2],"nice":false,"zero":false}},"x2":{"field":"t2"},"y2":{"field":"v2"}}},
 {"data":{"name":"heads"},"transform":[{"filter":"datum.p==='R1'"}],"mark":{"type":"point","shape":"triangle-up","filled":true,"opacity":1,"color":"#e3262e","size":70,"angle":-75},"encoding":{"x":{"field":"t","type":"quantitative","scale":{"domain":[0,60],"nice":false}},"y":{"field":"v","type":"quantitative","scale":{"domain":[49,50.2],"nice":false,"zero":false}}}}
]},
{"width":600,"height":74,"layer":[
 {"data":{"name":"lines"},"transform":[{"filter":"datum.p==='L2'"}],"mark":{"type":"line","strokeWidth":1.8},"encoding":{
   "x":{"field":"t","type":"quantitative","scale":{"domain":[0,60],"nice":false},"axis":{"values":[0,10,20,30,40,50,60],"tickCount":20,"title":null,"labelOverlap":false}},
   "y":{"field":"v","type":"quantitative","scale":{"domain":[-0.5,0.4],"nice":false,"zero":false},"axis":{"values":[-0.4,-0.2,0,0.2],"tickCount":20,"labelExpr":"replace(format(datum.value, '~g'), '−', '-')","labelOverlap":false,"title":"RoCoF (Hz/s)"}},
   "color":{"field":"s","type":"nominal","sort":null,"scale":{"domain":["LC1-local","LC2-local","LC1,2-system"],"range":["#2e9e3a","#c43ccf","#2020e0"]},"legend":{"title":null,"orient":"none","legendX":457,"legendY":5}},
   "strokeDash":{"field":"s","type":"nominal","sort":null,"scale":{"domain":["LC1-local","LC2-local","LC1,2-system"],"range":[[1,0],[1,0],[5,2,2,2]]},"legend":{"title":null,"orient":"none","legendX":457,"legendY":5}}}},
 {"data":{"name":"vgrid"},"transform":[{"filter":"datum.p==='L2'"}],"mark":{"type":"rule","color":"#000","strokeDash":[5,4],"strokeWidth":1},"encoding":{"x":{"field":"t","type":"quantitative","scale":{"domain":[0,60],"nice":false}}}},
 {"data":{"name":"hgrid"},"transform":[{"filter":"datum.p==='L2'"}],"mark":{"type":"rule","color":"#000","strokeDash":[5,4],"strokeWidth":1},"encoding":{"y":{"field":"v","type":"quantitative","scale":{"domain":[-0.5,0.4],"nice":false,"zero":false}}}},
 {"data":{"name":"heads"},"transform":[{"filter":"datum.p==='L2'"}],"mark":{"type":"point","shape":"triangle-up","filled":true,"opacity":1,"color":"#e3262e","size":70,"angle":-118},"encoding":{"x":{"field":"t","type":"quantitative","scale":{"domain":[0,60],"nice":false}},"y":{"field":"v","type":"quantitative","scale":{"domain":[-0.5,0.4],"nice":false,"zero":false}}}}
]},
{"width":600,"height":74,"layer":[
 {"data":{"name":"lines"},"transform":[{"filter":"datum.p==='R2'"}],"mark":{"type":"line","strokeWidth":1.8},"encoding":{
   "x":{"field":"t","type":"quantitative","scale":{"domain":[0,60],"nice":false},"axis":{"values":[0,10,20,30,40,50,60],"tickCount":20,"title":null,"labelOverlap":false}},
   "y":{"field":"v","type":"quantitative","scale":{"domain":[-0.5,0.4],"nice":false,"zero":false},"axis":{"values":[-0.4,-0.2,0,0.2],"tickCount":20,"labelExpr":"replace(format(datum.value, '~g'), '−', '-')","labelOverlap":false,"title":"RoCoF (Hz/s)"}},
   "color":{"field":"s","type":"nominal","sort":null,"scale":{"domain":["LC1-local","LC2-local","LC1,2-system"],"range":["#2e9e3a","#c43ccf","#2020e0"]},"legend":{"title":null,"orient":"none","legendX":459,"legendY":5}},
   "strokeDash":{"field":"s","type":"nominal","sort":null,"scale":{"domain":["LC1-local","LC2-local","LC1,2-system"],"range":[[1,0],[1,0],[5,2,2,2]]},"legend":{"title":null,"orient":"none","legendX":459,"legendY":5}}}},
 {"data":{"name":"vgrid"},"transform":[{"filter":"datum.p==='R2'"}],"mark":{"type":"rule","color":"#000","strokeDash":[5,4],"strokeWidth":1},"encoding":{"x":{"field":"t","type":"quantitative","scale":{"domain":[0,60],"nice":false}}}},
 {"data":{"name":"hgrid"},"transform":[{"filter":"datum.p==='R2'"}],"mark":{"type":"rule","color":"#000","strokeDash":[5,4],"strokeWidth":1},"encoding":{"y":{"field":"v","type":"quantitative","scale":{"domain":[-0.5,0.4],"nice":false,"zero":false}}}},
 {"data":{"name":"heads"},"transform":[{"filter":"datum.p==='R2'"}],"mark":{"type":"point","shape":"triangle-up","filled":true,"opacity":1,"color":"#e3262e","size":70,"angle":-118},"encoding":{"x":{"field":"t","type":"quantitative","scale":{"domain":[0,60],"nice":false}},"y":{"field":"v","type":"quantitative","scale":{"domain":[-0.5,0.4],"nice":false,"zero":false}}}}
]},
{"width":600,"height":74,"layer":[
 {"data":{"name":"lines"},"transform":[{"filter":"datum.p==='L3'"}],"mark":{"type":"line","strokeWidth":1.8},"encoding":{
   "x":{"field":"t","type":"quantitative","scale":{"domain":[0,60],"nice":false},"axis":{"values":[0,10,20,30,40,50,60],"tickCount":20,"title":null,"labelOverlap":false}},
   "y":{"field":"v","type":"quantitative","scale":{"domain":[0,1],"nice":false,"zero":false},"axis":{"values":[0,0.5,1],"tickCount":20,"labelExpr":"replace(format(datum.value, '~g'), '−', '-')","labelOverlap":false,"title":"Event detection"}},
   "color":{"field":"s","type":"nominal","sort":null,"scale":{"domain":["LC1","LC2"],"range":["#2e9e3a","#c43ccf"]},"legend":{"title":null,"orient":"none","legendX":515,"legendY":10}}}},
 {"data":{"name":"vgrid"},"transform":[{"filter":"datum.p==='L3'"}],"mark":{"type":"rule","color":"#000","strokeDash":[5,4],"strokeWidth":1},"encoding":{"x":{"field":"t","type":"quantitative","scale":{"domain":[0,60],"nice":false}}}},
 {"data":{"name":"hgrid"},"transform":[{"filter":"datum.p==='L3'"}],"mark":{"type":"rule","color":"#000","strokeDash":[5,4],"strokeWidth":1},"encoding":{"y":{"field":"v","type":"quantitative","scale":{"domain":[0,1],"nice":false,"zero":false}}}},
 {"data":{"name":"rings"},"transform":[{"filter":"datum.p==='L3'"}],"mark":{"type":"point","filled":false,"opacity":1,"color":"#d23a3a","strokeWidth":1.2,"strokeDash":[6,4],"size":7225,"shape":"M 0.447 0 C 0.447 0.5523 0.247 1 0 1 C -0.247 1 -0.447 0.5523 -0.447 0 C -0.447 -0.5523 -0.247 -1 0 -1 C 0.247 -1 0.447 -0.5523 0.447 0 Z"},"encoding":{"x":{"field":"t","type":"quantitative","scale":{"domain":[0,60],"nice":false}},"y":{"field":"v","type":"quantitative","scale":{"domain":[0,1],"nice":false,"zero":false}}}},
 {"data":{"name":"notes"},"transform":[{"filter":"datum.p==='L3'"}],"mark":{"type":"text","font":"Liberation Serif","fontSize":21.5,"color":"#e3262e","align":"center","baseline":"middle"},"encoding":{"x":{"field":"t","type":"quantitative","scale":{"domain":[0,60],"nice":false}},"y":{"field":"v","type":"quantitative","scale":{"domain":[0,1],"nice":false,"zero":false}},"text":{"field":"label"}}}
]},
{"width":600,"height":74,"layer":[
 {"data":{"name":"lines"},"transform":[{"filter":"datum.p==='R3'"}],"mark":{"type":"line","strokeWidth":1.8},"encoding":{
   "x":{"field":"t","type":"quantitative","scale":{"domain":[0,60],"nice":false},"axis":{"values":[0,10,20,30,40,50,60],"tickCount":20,"title":null,"labelOverlap":false}},
   "y":{"field":"v","type":"quantitative","scale":{"domain":[0,1],"nice":false,"zero":false},"axis":{"values":[0,0.5,1],"tickCount":20,"labelExpr":"replace(format(datum.value, '~g'), '−', '-')","labelOverlap":false,"title":"Event detection"}},
   "color":{"field":"s","type":"nominal","sort":null,"scale":{"domain":["LC1","LC2"],"range":["#2e9e3a","#c43ccf"]},"legend":{"title":null,"orient":"none","legendX":526,"legendY":9}}}},
 {"data":{"name":"vgrid"},"transform":[{"filter":"datum.p==='R3'"}],"mark":{"type":"rule","color":"#000","strokeDash":[5,4],"strokeWidth":1},"encoding":{"x":{"field":"t","type":"quantitative","scale":{"domain":[0,60],"nice":false}}}},
 {"data":{"name":"hgrid"},"transform":[{"filter":"datum.p==='R3'"}],"mark":{"type":"rule","color":"#000","strokeDash":[5,4],"strokeWidth":1},"encoding":{"y":{"field":"v","type":"quantitative","scale":{"domain":[0,1],"nice":false,"zero":false}}}},
 {"data":{"name":"rings"},"transform":[{"filter":"datum.p==='R3'"}],"mark":{"type":"point","filled":false,"opacity":1,"color":"#d23a3a","strokeWidth":1.2,"strokeDash":[6,4],"size":7225,"shape":"M 0.365 0 C 0.365 0.5523 0.2015 1 0 1 C -0.2015 1 -0.365 0.5523 -0.365 0 C -0.365 -0.5523 -0.2015 -1 0 -1 C 0.2015 -1 0.365 -0.5523 0.365 0 Z"},"encoding":{"x":{"field":"t","type":"quantitative","scale":{"domain":[0,60],"nice":false}},"y":{"field":"v","type":"quantitative","scale":{"domain":[0,1],"nice":false,"zero":false}}}},
 {"data":{"name":"notes"},"transform":[{"filter":"datum.p==='R3'"}],"mark":{"type":"text","font":"Liberation Serif","fontSize":21.5,"color":"#e3262e","align":"center","baseline":"middle"},"encoding":{"x":{"field":"t","type":"quantitative","scale":{"domain":[0,60],"nice":false}},"y":{"field":"v","type":"quantitative","scale":{"domain":[0,1],"nice":false,"zero":false}},"text":{"field":"label"}}}
]},
{"width":600,"height":74,"layer":[
 {"data":{"name":"lines"},"transform":[{"filter":"datum.p==='L4'"}],"mark":{"type":"line","strokeWidth":1.8},"encoding":{
   "x":{"field":"t","type":"quantitative","scale":{"domain":[0,60],"nice":false},"axis":{"values":[0,10,20,30,40,50,60],"tickCount":20,"title":null,"labelOverlap":false}},
   "y":{"field":"v","type":"quantitative","scale":{"domain":[-7,490],"nice":false,"zero":false},"axis":{"values":[0,200,400],"tickCount":20,"labelExpr":"replace(format(datum.value, '~g'), '−', '-')","labelOverlap":false,"title":"Command (MW)"}},
   "color":{"field":"s","type":"nominal","sort":null,"scale":{"domain":["LC1-command","LC2-command"],"range":["#2e9e3a","#c43ccf"]},"legend":{"title":null,"orient":"none","legendX":450,"legendY":10}}}},
 {"data":{"name":"vgrid"},"transform":[{"filter":"datum.p==='L4'"}],"mark":{"type":"rule","color":"#000","strokeDash":[5,4],"strokeWidth":1},"encoding":{"x":{"field":"t","type":"quantitative","scale":{"domain":[0,60],"nice":false}}}},
 {"data":{"name":"hgrid"},"transform":[{"filter":"datum.p==='L4'"}],"mark":{"type":"rule","color":"#000","strokeDash":[5,4],"strokeWidth":1},"encoding":{"y":{"field":"v","type":"quantitative","scale":{"domain":[-7,490],"nice":false,"zero":false}}}},
 {"data":{"name":"rings"},"transform":[{"filter":"datum.p==='L4'"}],"mark":{"type":"point","filled":false,"opacity":1,"color":"#d23a3a","strokeWidth":1.2,"strokeDash":[6,4],"size":5329,"shape":"M 0.616 0 C 0.616 0.5523 0.34 1 0 1 C -0.34 1 -0.616 0.5523 -0.616 0 C -0.616 -0.5523 -0.34 -1 0 -1 C 0.34 -1 0.616 -0.5523 0.616 0 Z"},"encoding":{"x":{"field":"t","type":"quantitative","scale":{"domain":[0,60],"nice":false}},"y":{"field":"v","type":"quantitative","scale":{"domain":[-7,490],"nice":false,"zero":false}}}},
 {"data":{"name":"notes"},"transform":[{"filter":"datum.p==='L4'"}],"mark":{"type":"text","font":"Liberation Serif","fontSize":22,"color":"#e3262e","align":"left","baseline":"middle"},"encoding":{"x":{"field":"t","type":"quantitative","scale":{"domain":[0,60],"nice":false}},"y":{"field":"v","type":"quantitative","scale":{"domain":[-7,490],"nice":false,"zero":false}},"text":{"field":"label"}}}
]},
{"width":600,"height":74,"layer":[
 {"data":{"name":"lines"},"transform":[{"filter":"datum.p==='R4'"}],"mark":{"type":"line","strokeWidth":1.8},"encoding":{
   "x":{"field":"t","type":"quantitative","scale":{"domain":[0,60],"nice":false},"axis":{"values":[0,10,20,30,40,50,60],"tickCount":20,"title":null,"labelOverlap":false}},
   "y":{"field":"v","type":"quantitative","scale":{"domain":[-7,495],"nice":false,"zero":false},"axis":{"values":[0,200,400],"tickCount":20,"labelExpr":"replace(format(datum.value, '~g'), '−', '-')","labelOverlap":false,"title":"Command (MW)"}},
   "color":{"field":"s","type":"nominal","sort":null,"scale":{"domain":["LC1-command","LC2-command"],"range":["#2e9e3a","#c43ccf"]},"legend":{"title":null,"orient":"none","legendX":454,"legendY":8}}}},
 {"data":{"name":"vgrid"},"transform":[{"filter":"datum.p==='R4'"}],"mark":{"type":"rule","color":"#000","strokeDash":[5,4],"strokeWidth":1},"encoding":{"x":{"field":"t","type":"quantitative","scale":{"domain":[0,60],"nice":false}}}},
 {"data":{"name":"hgrid"},"transform":[{"filter":"datum.p==='R4'"}],"mark":{"type":"rule","color":"#000","strokeDash":[5,4],"strokeWidth":1},"encoding":{"y":{"field":"v","type":"quantitative","scale":{"domain":[-7,495],"nice":false,"zero":false}}}},
 {"data":{"name":"rings"},"transform":[{"filter":"datum.p==='R4'"}],"mark":{"type":"point","filled":false,"opacity":1,"color":"#d23a3a","strokeWidth":1.2,"strokeDash":[6,4],"size":6241,"shape":"M 0.342 0 C 0.342 0.5523 0.189 1 0 1 C -0.189 1 -0.342 0.5523 -0.342 0 C -0.342 -0.5523 -0.189 -1 0 -1 C 0.189 -1 0.342 -0.5523 0.342 0 Z"},"encoding":{"x":{"field":"t","type":"quantitative","scale":{"domain":[0,60],"nice":false}},"y":{"field":"v","type":"quantitative","scale":{"domain":[-7,495],"nice":false,"zero":false}}}},
 {"data":{"name":"notes"},"transform":[{"filter":"datum.p==='R4'"}],"mark":{"type":"text","font":"Liberation Serif","fontSize":22,"color":"#e3262e","align":"left","baseline":"middle"},"encoding":{"x":{"field":"t","type":"quantitative","scale":{"domain":[0,60],"nice":false}},"y":{"field":"v","type":"quantitative","scale":{"domain":[-7,495],"nice":false,"zero":false}},"text":{"field":"label"}}}
]},
{"width":600,"height":74,"title":{"text":"(a) Test results from Case B1 using P-HiL","orient":"bottom","font":"Liberation Serif","fontSize":24,"fontWeight":"normal","color":"#000","offset":5},"layer":[
 {"data":{"name":"lines"},"transform":[{"filter":"datum.p==='L5'"}],"mark":{"type":"line","strokeWidth":1.8},"encoding":{
   "x":{"field":"t","type":"quantitative","scale":{"domain":[0,60],"nice":false},"axis":{"values":[0,10,20,30,40,50,60],"tickCount":20,"title":"Time (s)","labelOverlap":false}},
   "y":{"field":"v","type":"quantitative","scale":{"domain":[-5,800],"nice":false,"zero":false},"axis":{"values":[0,200,400,600,800],"tickCount":20,"labelExpr":"replace(format(datum.value, '~g'), '−', '-')","labelOverlap":false,"title":"Response (MW)"}},
   "color":{"field":"s","type":"nominal","sort":null,"scale":{"domain":["LC1-resource power","LC2-resource power"],"range":["#2e9e3a","#c43ccf"]},"legend":{"title":null,"orient":"none","legendX":414,"legendY":8}},
   "strokeDash":{"field":"s","type":"nominal","sort":null,"scale":{"domain":["LC1-resource power","LC2-resource power"],"range":[[5,2,2,2],[5,2,2,2]]},"legend":{"title":null,"orient":"none","legendX":414,"legendY":8}}}},
 {"data":{"name":"vgrid"},"transform":[{"filter":"datum.p==='L5'"}],"mark":{"type":"rule","color":"#000","strokeDash":[5,4],"strokeWidth":1},"encoding":{"x":{"field":"t","type":"quantitative","scale":{"domain":[0,60],"nice":false}}}},
 {"data":{"name":"hgrid"},"transform":[{"filter":"datum.p==='L5'"}],"mark":{"type":"rule","color":"#000","strokeDash":[5,4],"strokeWidth":1},"encoding":{"y":{"field":"v","type":"quantitative","scale":{"domain":[-5,800],"nice":false,"zero":false}}}},
 {"data":{"name":"rings"},"transform":[{"filter":"datum.p==='L5'"}],"mark":{"type":"point","filled":false,"opacity":1,"color":"#d23a3a","strokeWidth":1.2,"strokeDash":[6,4],"size":3844,"shape":"M 0.984 0 C 0.984 0.5523 0.543 1 0 1 C -0.543 1 -0.984 0.5523 -0.984 0 C -0.984 -0.5523 -0.543 -1 0 -1 C 0.543 -1 0.984 -0.5523 0.984 0 Z"},"encoding":{"x":{"field":"t","type":"quantitative","scale":{"domain":[0,60],"nice":false}},"y":{"field":"v","type":"quantitative","scale":{"domain":[-5,800],"nice":false,"zero":false}}}},
 {"data":{"name":"notes"},"transform":[{"filter":"datum.p==='L5'"}],"mark":{"type":"text","font":"Liberation Serif","fontSize":22,"color":"#e3262e","align":"left","baseline":"middle"},"encoding":{"x":{"field":"t","type":"quantitative","scale":{"domain":[0,60],"nice":false}},"y":{"field":"v","type":"quantitative","scale":{"domain":[-5,800],"nice":false,"zero":false}},"text":{"field":"label"}}}
]},
{"width":600,"height":74,"title":{"text":"(b) Test results from Case B2 using P-HiL","orient":"bottom","font":"Liberation Serif","fontSize":24,"fontWeight":"normal","color":"#000","offset":5},"layer":[
 {"data":{"name":"lines"},"transform":[{"filter":"datum.p==='R5'"}],"mark":{"type":"line","strokeWidth":1.8},"encoding":{
   "x":{"field":"t","type":"quantitative","scale":{"domain":[0,60],"nice":false},"axis":{"values":[0,10,20,30,40,50,60],"tickCount":20,"title":"Time (s)","labelOverlap":false}},
   "y":{"field":"v","type":"quantitative","scale":{"domain":[-80,480],"nice":false,"zero":false},"axis":{"values":[0,200,400],"tickCount":20,"labelExpr":"replace(format(datum.value, '~g'), '−', '-')","labelOverlap":false,"title":"Response (MW)"}},
   "color":{"field":"s","type":"nominal","sort":null,"scale":{"domain":["LC1-resource power","LC2-resource power"],"range":["#2e9e3a","#c43ccf"]},"legend":{"title":null,"orient":"none","legendX":424,"legendY":2}},
   "strokeDash":{"field":"s","type":"nominal","sort":null,"scale":{"domain":["LC1-resource power","LC2-resource power"],"range":[[5,2,2,2],[5,2,2,2]]},"legend":{"title":null,"orient":"none","legendX":424,"legendY":2}}}},
 {"data":{"name":"vgrid"},"transform":[{"filter":"datum.p==='R5'"}],"mark":{"type":"rule","color":"#000","strokeDash":[5,4],"strokeWidth":1},"encoding":{"x":{"field":"t","type":"quantitative","scale":{"domain":[0,60],"nice":false}}}},
 {"data":{"name":"hgrid"},"transform":[{"filter":"datum.p==='R5'"}],"mark":{"type":"rule","color":"#000","strokeDash":[5,4],"strokeWidth":1},"encoding":{"y":{"field":"v","type":"quantitative","scale":{"domain":[-80,480],"nice":false,"zero":false}}}},
 {"data":{"name":"rings"},"transform":[{"filter":"datum.p==='R5'"}],"mark":{"type":"point","filled":false,"opacity":1,"color":"#d23a3a","strokeWidth":1.2,"strokeDash":[6,4],"size":4900,"shape":"M 0.686 0 C 0.686 0.5523 0.379 1 0 1 C -0.379 1 -0.686 0.5523 -0.686 0 C -0.686 -0.5523 -0.379 -1 0 -1 C 0.379 -1 0.686 -0.5523 0.686 0 Z"},"encoding":{"x":{"field":"t","type":"quantitative","scale":{"domain":[0,60],"nice":false}},"y":{"field":"v","type":"quantitative","scale":{"domain":[-80,480],"nice":false,"zero":false}}}},
 {"data":{"name":"notes"},"transform":[{"filter":"datum.p==='R5'"}],"mark":{"type":"text","font":"Liberation Serif","fontSize":22,"color":"#e3262e","align":"left","baseline":"middle"},"encoding":{"x":{"field":"t","type":"quantitative","scale":{"domain":[0,60],"nice":false}},"y":{"field":"v","type":"quantitative","scale":{"domain":[-80,480],"nice":false,"zero":false}},"text":{"field":"label"}}}
]}
],
"config":{
 "view":{"stroke":"#000","strokeWidth":2},
 "axis":{"labelFont":"Liberation Sans","labelFontSize":11,"labelColor":"#444","titleFont":"Liberation Sans","titleFontSize":11,"titleFontWeight":"bold","titleColor":"#111","domain":false,"ticks":false,"gridColor":"#dcdcdc","gridWidth":1,"labelFlush":false,"labelPadding":5,"titlePadding":4,"labelOverlap":false},
 "legend":{"labelFont":"Liberation Sans","labelFontSize":13,"labelColor":"#111","fillColor":"#fff","strokeColor":"#888","padding":4,"rowPadding":1,"clipHeight":15,"symbolStrokeWidth":2,"symbolSize":1300,"symbolType":"stroke","labelOffset":3}
}
}
